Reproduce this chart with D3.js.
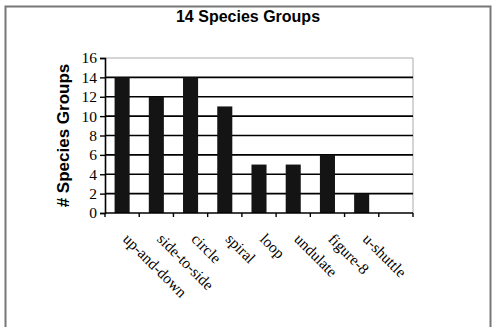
<!DOCTYPE html>
<html>
<head>
<meta charset="utf-8">
<script src="https://cdn.jsdelivr.net/npm/d3@7"></script>
<style>
  body { margin: 0; background: #fff; }
</style>
</head>
<body>
<div class="canvas"></div>
<script>
const categories = ["up-and-down", "side-to-side", "circle", "spiral", "loop", "undulate", "figure-8", "u-shuttle", ""];
const counts = [14, 12, 14, 11, 5, 5, 6, 2, null];
const yTicks = [0, 2, 4, 6, 8, 10, 12, 14, 16];

const dims = { width: 497, height: 327 };
const plot = { left: 105, right: 413, top: 58, bottom: 213 };

const svg = d3
  .select(".canvas")
  .append("svg")
  .attr("width", dims.width)
  .attr("height", dims.height);

// outer frame
svg
  .append("rect")
  .attr("x", 5.5)
  .attr("y", 6.5)
  .attr("width", 485)
  .attr("height", 330)
  .attr("fill", "none")
  .attr("stroke", "#777")
  .attr("stroke-width", 2);

svg
  .append("text")
  .text("14 Species Groups")
  .attr("x", 248)
  .attr("y", 22)
  .attr("text-anchor", "middle")
  .attr("font-family", "Liberation Sans, Arial, sans-serif")
  .attr("font-weight", "bold")
  .attr("font-size", 16);

const x = d3
  .scaleBand()
  .domain(categories.map((d, i) => i))
  .range([plot.left, plot.right])
  .paddingInner(0.56)
  .paddingOuter(0.28);

const y = d3.scaleLinear().domain([0, 16]).range([plot.bottom, plot.top]);

// plot border (top + right), light gray
svg
  .append("path")
  .attr("d", `M${plot.left},${plot.top}H${plot.right}V${plot.bottom}`)
  .attr("fill", "none")
  .attr("stroke", "#aaa")
  .attr("stroke-width", 1);

// gridlines
svg
  .append("g")
  .selectAll("line")
  .data(yTicks.filter((t) => t > 0 && t < 16))
  .enter()
  .append("line")
  .attr("x1", plot.left)
  .attr("x2", plot.right)
  .attr("y1", (d) => y(d))
  .attr("y2", (d) => y(d))
  .attr("stroke", "#000")
  .attr("stroke-width", 1.6);

// bars
svg
  .append("g")
  .selectAll("rect")
  .data(counts.map((v, i) => ({ i, v })).filter((d) => d.v != null))
  .enter()
  .append("rect")
  .attr("x", (d) => x(d.i))
  .attr("y", (d) => y(d.v))
  .attr("width", x.bandwidth())
  .attr("height", (d) => y(0) - y(d.v))
  .attr("fill", "#141414");

// y axis
const yAxis = svg
  .append("g")
  .attr("transform", `translate(${plot.left},0)`)
  .call(d3.axisLeft(y).tickValues(yTicks).tickSize(5).tickPadding(3));

yAxis.select(".domain").attr("stroke-width", 1.6);
yAxis.selectAll(".tick line").attr("stroke-width", 1.4);
yAxis
  .selectAll("text")
  .attr("font-family", "Liberation Serif, Times New Roman, serif")
  .attr("font-size", 15.5)
  .attr("fill", "#000");

// x axis with ticks at slot edges
const slotW = (plot.right - plot.left) / categories.length;
svg
  .append("line")
  .attr("x1", plot.left)
  .attr("x2", plot.right)
  .attr("y1", plot.bottom)
  .attr("y2", plot.bottom)
  .attr("stroke", "#000")
  .attr("stroke-width", 1.6);

svg
  .append("g")
  .selectAll("line")
  .data(d3.range(categories.length + 1))
  .enter()
  .append("line")
  .attr("x1", (d) => plot.left + d * slotW)
  .attr("x2", (d) => plot.left + d * slotW)
  .attr("y1", plot.bottom)
  .attr("y2", plot.bottom + 4)
  .attr("stroke", "#000")
  .attr("stroke-width", 1.4);

// rotated category labels
svg
  .append("g")
  .selectAll("text")
  .data(categories)
  .enter()
  .append("text")
  .text((d) => d)
  .attr("transform", (d, i) => `translate(${x(i) + x.bandwidth() / 2},${plot.bottom + 27}) rotate(45)`)
  .attr("text-anchor", "start")
  .attr("font-family", "Liberation Serif, Times New Roman, serif")
  .attr("font-size", 15.5);

// y axis title
svg
  .append("text")
  .text("# Species Groups")
  .attr("transform", `translate(69,${(plot.top + plot.bottom) / 2}) rotate(-90)`)
  .attr("text-anchor", "middle")
  .attr("font-family", "Liberation Sans, Arial, sans-serif")
  .attr("font-weight", "bold")
  .attr("font-size", 17);
</script>
</body>
</html>
